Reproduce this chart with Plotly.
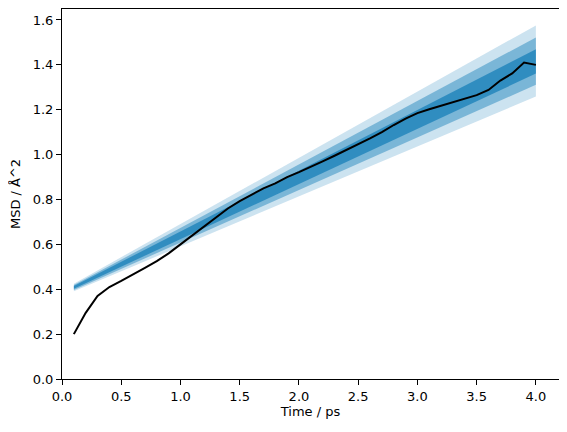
"""MSD vs time with credible-interval bands, matplotlib look in Plotly."""

import plotly.graph_objects as go

# ── data ────────────────────────────────────────────────────────────
time_ps = [0.1, 0.2, 0.3, 0.4, 0.5, 0.6, 0.7, 0.8, 0.9, 1.0,
           1.1, 1.2, 1.3, 1.4, 1.5, 1.6, 1.7, 1.8, 1.9, 2.0,
           2.1, 2.2, 2.3, 2.4, 2.5, 2.6, 2.7, 2.8, 2.9, 3.0,
           3.1, 3.2, 3.3, 3.4, 3.5, 3.6, 3.7, 3.8, 3.9, 4.0]
msd = [0.200, 0.295, 0.370, 0.410, 0.437, 0.465, 0.495, 0.525, 0.560, 0.600,
       0.640, 0.682, 0.722, 0.760, 0.793, 0.822, 0.850, 0.872, 0.900, 0.922,
       0.945, 0.970, 0.995, 1.020, 1.045, 1.072, 1.100, 1.132, 1.160, 1.185,
       1.202, 1.218, 1.235, 1.250, 1.265, 1.288, 1.330, 1.362, 1.410, 1.400]

# credible-interval bands are straight, so two end points per edge
band_x = [0.1, 4.0]
band_lo = {
    "ci_1": [0.402, 1.361],
    "ci_2": [0.397, 1.311],
    "ci_3": [0.391, 1.259],
}
band_hi = {
    "ci_1": [0.414, 1.470],
    "ci_2": [0.419, 1.522],
    "ci_3": [0.425, 1.576],
}
band_alpha = {"ci_1": 0.6, "ci_2": 0.4, "ci_3": 0.2}

x_ticks = [0.0, 0.5, 1.0, 1.5, 2.0, 2.5, 3.0, 3.5, 4.0]
y_ticks = [0.0, 0.2, 0.4, 0.6, 0.8, 1.0, 1.2, 1.4, 1.6]

FONT = "DejaVu Sans"

fig = go.Figure()

for key in ["ci_1", "ci_2", "ci_3"]:
    fig.add_trace(go.Scatter(
        x=band_x, y=band_lo[key], mode="lines",
        line=dict(width=0), showlegend=False, hoverinfo="skip",
    ))
    fig.add_trace(go.Scatter(
        x=band_x, y=band_hi[key], mode="lines",
        line=dict(width=0), fill="tonexty",
        fillcolor=f"rgba(1,115,178,{band_alpha[key]})",
        showlegend=False, hoverinfo="skip",
    ))

fig.add_trace(go.Scatter(
    x=time_ps, y=msd, mode="lines",
    line=dict(color="black", width=2),
    showlegend=False,
))

axis_common = dict(
    showline=True, linecolor="black", linewidth=1, mirror=True,
    ticks="outside", ticklen=5, tickwidth=1, tickcolor="black",
    showgrid=False, zeroline=False, automargin=False,
    tickfont=dict(family=FONT, size=13, color="black"),
)

fig.update_xaxes(
    range=[0, 4.195], tickvals=x_ticks, tickformat=".1f",
    title=dict(text="Time / ps", font=dict(family=FONT, size=13, color="black"),
               standoff=2),
    **axis_common,
)
fig.update_yaxes(
    range=[0, 1.649], tickvals=y_ticks, tickformat=".1f",
    title=dict(text="MSD / Å^2", font=dict(family=FONT, size=13, color="black")),
    **axis_common,
)

# the page body adds an 8 px offset, so the figure is sized to fit after it
fig.update_layout(
    width=559, height=424,
    margin=dict(l=54, r=8, t=1, b=53),
    plot_bgcolor="white", paper_bgcolor="white",
    font=dict(family=FONT, size=13, color="black"),
)

fig.write_html("out.html")
